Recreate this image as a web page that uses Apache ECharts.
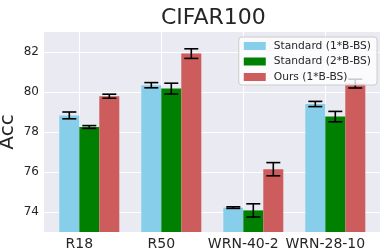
<!DOCTYPE html>
<html>
<head>
<meta charset="utf-8">
<script src="https://cdn.jsdelivr.net/npm/echarts@6/dist/echarts.min.js"></script>
<style>html,body{margin:0;padding:0;background:#fff}#c{width:383px;height:250px}</style>
</head>
<body>
<div id="c"></div>
<script>
var categories = ['R18', 'R50', 'WRN-40-2', 'WRN-28-10'];
var seriesNames = ['Standard (1*B-BS)', 'Standard (2*B-BS)', 'Ours (1*B-BS)'];
var std1Mean = [78.83, 80.34, 74.22, 79.40];
var std1Err  = [0.17, 0.13, 0.04, 0.13];
var std2Mean = [78.25, 80.17, 74.08, 78.77];
var std2Err  = [0.07, 0.27, 0.33, 0.26];
var oursMean = [79.79, 81.92, 76.14, 80.42];
var oursErr  = [0.10, 0.24, 0.33, 0.22];
var yTicks = [74, 76, 78, 80, 82];

var colors = ['#87CEEB', '#008000', '#CD5C5C'];
var FONT = 'DejaVu Sans';
var BAR_W = 20;

var means = [std1Mean, std2Mean, oursMean];
var errs = [std1Err, std2Err, oursErr];
var errData = [];
for (var s = 0; s < 3; s++) {
  for (var i = 0; i < categories.length; i++) {
    errData.push([i, means[s][i], errs[s][i], s]);
  }
}

var chart = echarts.init(document.getElementById('c'), null, {renderer: 'canvas'});
var series = [{
  name: '_vgrid', type: 'custom', xAxisIndex: 1, yAxisIndex: 1, z: 1, silent: true, clip: false,
  data: categories.map(function(c, i){ return [i]; }),
  renderItem: function(params, api) {
    var cs = params.coordSys;
    var x = Math.round(api.coord([api.value(0), 73])[0]) + 0.5;
    return {type: 'line', shape: {x1: x, y1: cs.y, x2: x, y2: cs.y + cs.height},
            style: {stroke: '#ffffff', lineWidth: 1}};
  }
}, {
  name: '_pad', type: 'bar', xAxisIndex: 1, yAxisIndex: 1,
  data: categories.map(function(){ return null; }),
  barWidth: BAR_W, barGap: '0%', clip: false, silent: true,
  itemStyle: {color: 'rgba(0,0,0,0)'}
}];
for (var k = 0; k < 3; k++) {
  series.push({
    name: seriesNames[k], type: 'bar', xAxisIndex: 1, yAxisIndex: 1,
    data: means[k], barWidth: BAR_W, barGap: '0%', clip: false,
    itemStyle: {color: colors[k]}, z: 4
  });
}
series.push({
  name: '_err', type: 'custom', xAxisIndex: 1, yAxisIndex: 1, z: 5, silent: true,
  data: errData,
  renderItem: function(params, api) {
    var idx = api.value(0), m = api.value(1), e = api.value(2), s = api.value(3);
    var off = (s - 0.5) * BAR_W; // bar centre relative to tick
    var top = api.coord([idx, m + e]);
    var bot = api.coord([idx, m - e]);
    var x = top[0] + off;
    var hw = 7;
    var st = {stroke: '#000', lineWidth: 1.6};
    return {type: 'group', children: [
      {type: 'line', shape: {x1: x, y1: top[1], x2: x, y2: bot[1]}, style: st},
      {type: 'line', shape: {x1: x - hw, y1: top[1], x2: x + hw, y2: top[1]}, style: st},
      {type: 'line', shape: {x1: x - hw, y1: bot[1], x2: x + hw, y2: bot[1]}, style: st}
    ]};
  }
});

chart.setOption({
  animation: false,
  title: {
    text: 'CIFAR100', left: 156, top: 2,
    textStyle: {fontFamily: FONT, fontSize: 22, fontWeight: 'normal', color: '#262626'}
  },
  legend: {
    data: seriesNames, orient: 'vertical', right: 6, top: 37, z: 10,
    itemWidth: 22, itemHeight: 8, itemGap: 3.5,
    padding: [3, 6, 2, 5],
    backgroundColor: 'rgba(255,255,255,0.8)', borderColor: '#cccccc', borderWidth: 1, borderRadius: 3,
    icon: 'rect',
    textStyle: {fontFamily: FONT, fontSize: 10.7, color: '#262626', lineHeight: 12, padding: [0, 0, 0, 3]}
  },
  grid: [
    {left: 44, right: 3, top: 32, bottom: 18, show: true, backgroundColor: '#EAEAF2', borderWidth: 0,
     containLabel: false, outerBoundsMode: 'none'},
    {left: 79.3, right: 57.7, top: 32, bottom: 18, containLabel: false, outerBoundsMode: 'none'}
  ],
  xAxis: [
    {type: 'value', gridIndex: 0, min: 0, max: 1, show: false, splitLine: {show: false}},
    {type: 'category', gridIndex: 1, data: categories, boundaryGap: false,
     axisLine: {show: false}, axisTick: {show: false},
     axisLabel: {fontFamily: FONT, fontSize: 14, color: '#262626', margin: 5, interval: 0},
     splitLine: {show: false}}
  ],
  yAxis: [
    {type: 'value', gridIndex: 0, min: 73, max: 83, interval: 1,
     axisLine: {show: false}, axisTick: {show: false},
     axisLabel: {fontFamily: FONT, fontSize: 12, color: '#262626', margin: 5,
       formatter: function(v){ return yTicks.indexOf(v) >= 0 ? String(v) : ''; }},
     splitLine: {show: true, lineStyle: {color: ['rgba(255,255,255,0)', '#ffffff'], width: 1}},
     name: 'Acc', nameLocation: 'middle', nameGap: 26, nameRotate: 90, nameMoveOverlap: false,
     nameTextStyle: {fontFamily: FONT, fontSize: 20, color: '#262626'}},
    {type: 'value', gridIndex: 1, min: 73, max: 83, startValue: 73, show: false, splitLine: {show: false}}
  ],
  series: series
});
</script>
</body>
</html>
